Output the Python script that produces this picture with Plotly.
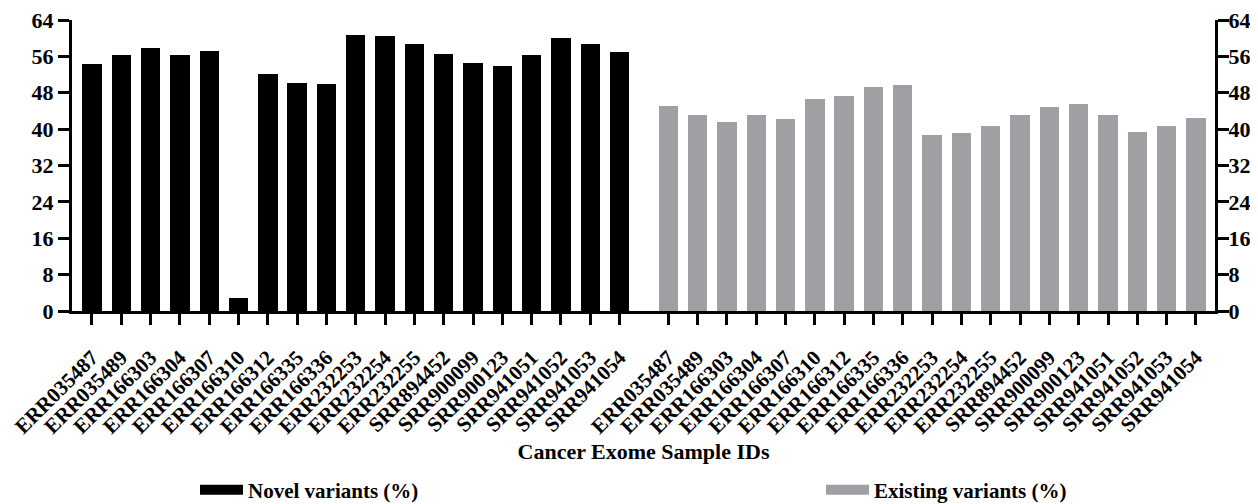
import plotly.graph_objects as go

samples = ["ERR035487", "ERR035489", "ERR166303", "ERR166304", "ERR166307", "ERR166310",
           "ERR166312", "ERR166335", "ERR166336", "ERR232253", "ERR232254", "ERR232255",
           "SRR894452", "SRR900099", "SRR900123", "SRR941051", "SRR941052", "SRR941053",
           "SRR941054"]
novel_pct = [54.3, 56.4, 57.9, 56.3, 57.1, 2.8, 52.1, 50.1, 49.9, 60.7, 60.4, 58.8,
             56.5, 54.5, 53.8, 56.4, 60.0, 58.8, 56.9]
existing_pct = [45.1, 43.0, 41.5, 43.2, 42.3, 46.7, 47.3, 49.3, 49.6, 38.8, 39.1, 40.7,
                43.0, 44.9, 45.6, 43.1, 39.4, 40.7, 42.5]
y_ticks = [0, 8, 16, 24, 32, 40, 48, 56, 64]

n = len(samples)
group_gap = 1.66
x_novel = list(range(n))
x_exist = [n - 1 + group_gap + i for i in range(n)]

FONT = "Liberation Serif"
BLACK = "#000000"
GRAY = "#a0a0a4"

# page body has an 8px default margin; size the figure so it fills the 1258x504 window
OFF = 8
W, H = 1258 - OFF, 504 - OFF
L, R, T, B = 72 - OFF, 43, 20 - OFF, 193
PW, PH = W - L - R, H - T - B

fig = go.Figure()
fig.add_trace(go.Bar(x=x_novel, y=novel_pct, width=0.66, marker=dict(color=BLACK, line=dict(width=0)),
                     name="Novel variants (%)", showlegend=False))
fig.add_trace(go.Bar(x=x_exist, y=existing_pct, width=0.66, marker=dict(color=GRAY, line=dict(width=0)),
                     name="Existing variants (%)", showlegend=False, yaxis="y2"))
# legend entries (wide swatches)
fig.add_trace(go.Scatter(x=[None], y=[None], mode="lines", line=dict(color=BLACK, width=11),
                         name="<b>Novel variants (%)</b>", legend="legend"))
fig.add_trace(go.Scatter(x=[None], y=[None], mode="lines", line=dict(color=GRAY, width=11),
                         name="<b>Existing variants (%)</b>", legend="legend2", yaxis="y2"))

tickfont = dict(family=FONT, size=22, color="black", weight="bold")
legfont = dict(family=FONT, size=21, color="black")
leg_y = -((490 - OFF) - (H - B)) / PH
common_y = dict(range=[0, 64], tickvals=y_ticks, ticks="outside", ticklen=11, tickwidth=3,
                tickcolor="black", showline=True, linewidth=3, linecolor="black", showgrid=False,
                zeroline=False, tickfont=tickfont, automargin=False, ticklabeloverflow="allow")
fig.update_layout(
    width=W, height=H,
    margin=dict(l=L, r=R, t=T, b=B, autoexpand=False),
    plot_bgcolor="white", paper_bgcolor="white",
    bargap=0,
    xaxis=dict(range=[-0.68, x_exist[-1] + 0.65], tickmode="array",
               tickvals=x_novel + x_exist, ticktext=[f"<b>{s}</b>" for s in samples + samples],
               tickangle=-45, ticks="outside", ticklen=11, tickwidth=3, tickcolor="black",
               showline=True, linewidth=3, linecolor="black", showgrid=False, zeroline=False,
               tickfont=dict(family=FONT, size=21, color="black"), ticklabeloverflow="allow",
               ticklabelstandoff=12,
               title=dict(text="<b>Cancer Exome Sample IDs</b>", font=dict(family=FONT, size=22, color="black"),
                          standoff=6),
               automargin=False),
    yaxis=dict(**common_y),
    yaxis2=dict(**common_y, overlaying="y", side="right", ticklabelstandoff=-5),
    legend=dict(x=(195 - OFF - L) / PW, y=leg_y, xanchor="left", yanchor="middle", itemwidth=43,
                font=legfont, bgcolor="rgba(0,0,0,0)"),
    legend2=dict(x=(821 - OFF - L) / PW, y=leg_y, xanchor="left", yanchor="middle", itemwidth=43,
                 font=legfont, bgcolor="rgba(0,0,0,0)"),
)

fig.write_html("out.html")
